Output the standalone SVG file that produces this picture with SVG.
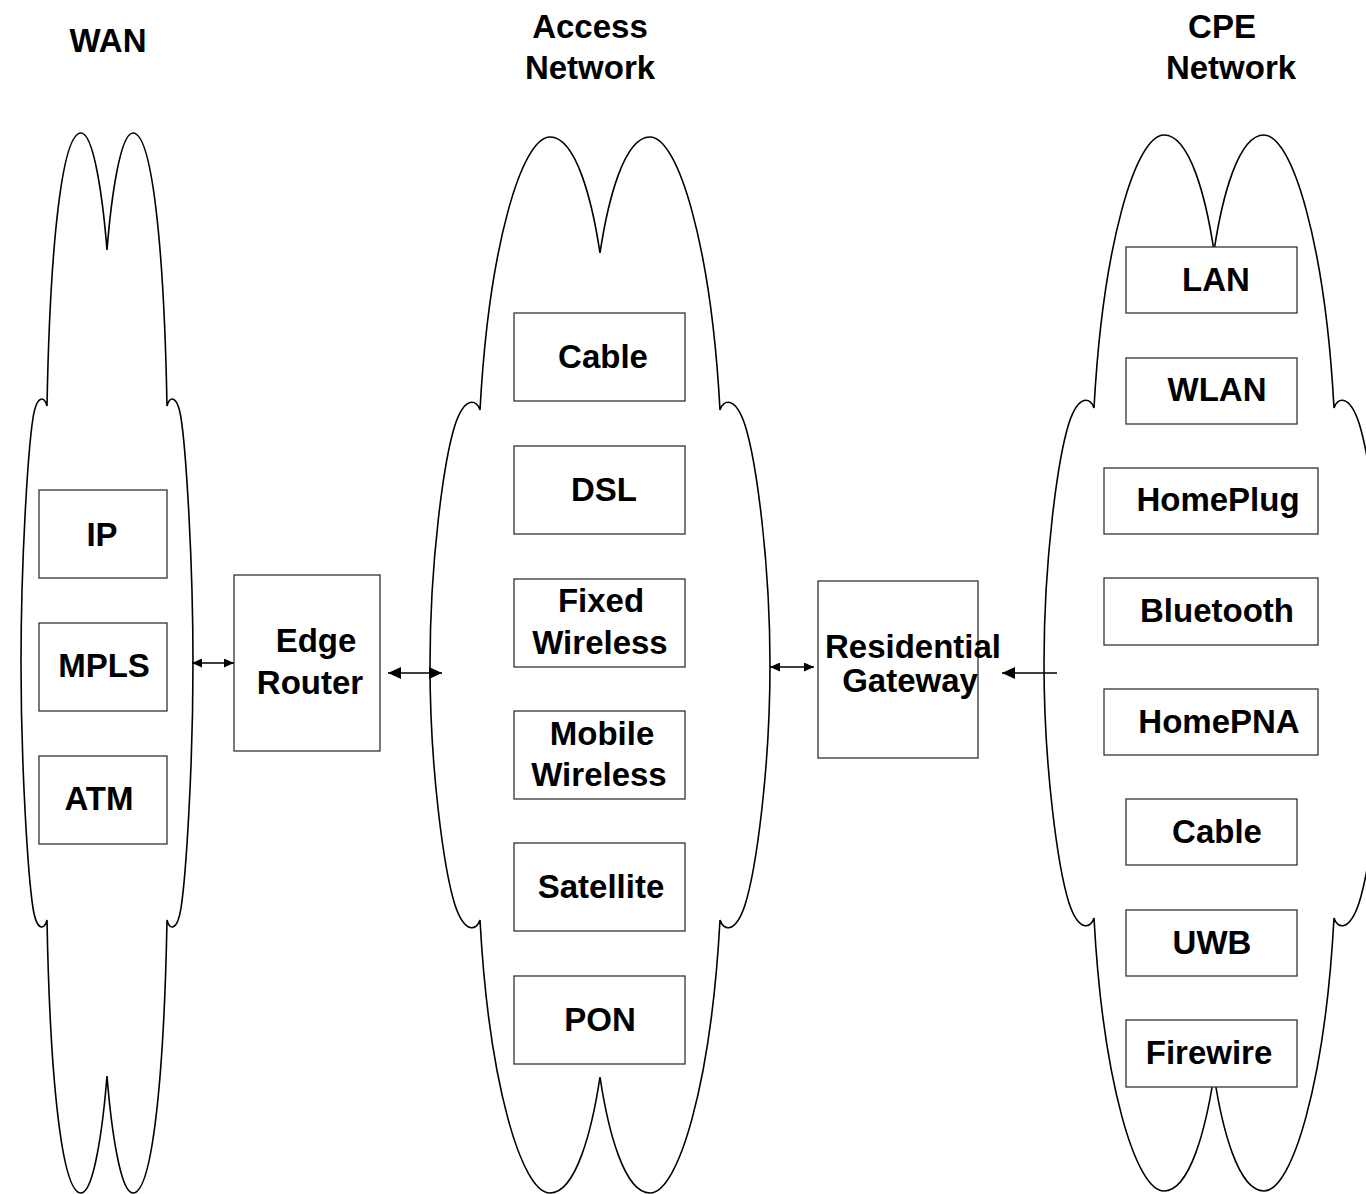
<svg xmlns="http://www.w3.org/2000/svg" xmlns:xlink="http://www.w3.org/1999/xlink" width="1366" height="1194" viewBox="0 0 1366 1194">
  <style>
    .cloud { fill: none; stroke: #000; stroke-width: 1.6; stroke-linejoin: miter; }
    .box { fill: #fff; stroke: #333; stroke-width: 1.3; }
    .lbl { font-family: "Liberation Sans", Arial, sans-serif; font-weight: bold; font-size: 33px; fill: #000; text-anchor: middle; }
    .wire { stroke: #000; stroke-width: 1.3; fill: none; }
  </style>
  <defs>
    <marker id="headS" markerUnits="userSpaceOnUse" markerWidth="10" markerHeight="9" refX="10" refY="4.5" orient="auto-start-reverse">
      <path d="M0,0 L10,4.5 L0,9 Z" fill="#000"/>
    </marker>
    <marker id="headL" markerUnits="userSpaceOnUse" markerWidth="13" markerHeight="12" refX="13" refY="6" orient="auto-start-reverse">
      <path d="M0,0 L13,6 L0,12 Z" fill="#000"/>
    </marker>
    <!-- wide cloud outline, centred on x=600, y=665 -->
    <path id="wideCloud" class="cloud" d="M480,410
      C489,245 522,137 550,137
      C576,137 592,200 600,253
      C608,200 624,137 650,137
      C678,137 711,245 720,410
      C723,400 735,395 745,425
      C756,460 770,560 770,665
      C770,770 756,870 745,905
      C735,935 723,930 720,920
      C711,1085 678,1193 650,1193
      C624,1193 608,1130 600,1077
      C592,1130 576,1193 550,1193
      C522,1193 489,1085 480,920
      C477,930 465,935 455,905
      C444,870 430,770 430,665
      C430,560 444,460 455,425
      C465,395 477,400 480,410 Z"/>
  </defs>

  <rect width="1366" height="1194" fill="#fff"/>

  <!-- column headings -->
  <g id="headings">
    <text class="lbl" x="108" y="52">WAN</text>
    <text class="lbl" x="590" y="38">Access</text>
    <text class="lbl" x="590" y="79">Network</text>
    <text class="lbl" x="1222" y="38">CPE</text>
    <text class="lbl" x="1231" y="79">Network</text>
  </g>

  <!-- WAN cloud and its members -->
  <g id="wan">
    <path class="cloud" d="M47,406
      C50,245 62,133 81,133
      C94,133 103,200 107,250
      C111,200 120,133 133,133
      C152,133 164,245 167,406
      C169,397 177,393 181,418
      C186,450 193,560 193,663
      C193,766 186,876 181,908
      C177,933 169,929 167,920
      C164,1081 152,1193 133,1193
      C120,1193 111,1126 107,1076
      C103,1126 94,1193 81,1193
      C62,1193 50,1081 47,920
      C45,929 37,933 33,908
      C28,876 21,766 21,663
      C21,560 28,450 33,418
      C37,393 45,397 47,406 Z"/>
    <g id="wan-ip"><rect class="box" x="39" y="490" width="128" height="88"/><text class="lbl" x="102" y="546">IP</text></g>
    <g id="wan-mpls"><rect class="box" x="39" y="623" width="128" height="88"/><text class="lbl" x="104" y="677">MPLS</text></g>
    <g id="wan-atm"><rect class="box" x="39" y="756" width="128" height="88"/><text class="lbl" x="99" y="810">ATM</text></g>
  </g>

  <g id="edge-router">
    <rect class="box" x="234" y="575" width="146" height="176"/>
    <text class="lbl" x="316" y="652">Edge</text>
    <text class="lbl" x="310" y="694">Router</text>
  </g>

  <!-- access network cloud -->
  <g id="access">
    <use xlink:href="#wideCloud" href="#wideCloud"/>
    <g id="acc-cable"><rect class="box" x="514" y="313" width="171" height="88"/><text class="lbl" x="603" y="368">Cable</text></g>
    <g id="acc-dsl"><rect class="box" x="514" y="446" width="171" height="88"/><text class="lbl" x="604" y="501">DSL</text></g>
    <g id="acc-fixed"><rect class="box" x="514" y="579" width="171" height="88"/><text class="lbl" x="601" y="612">Fixed</text><text class="lbl" x="600" y="654">Wireless</text></g>
    <g id="acc-mobile"><rect class="box" x="514" y="711" width="171" height="88"/><text class="lbl" x="602" y="745">Mobile</text><text class="lbl" x="599" y="786">Wireless</text></g>
    <g id="acc-satellite"><rect class="box" x="514" y="843" width="171" height="88"/><text class="lbl" x="601" y="898">Satellite</text></g>
    <g id="acc-pon"><rect class="box" x="514" y="976" width="171" height="88"/><text class="lbl" x="600" y="1031">PON</text></g>
  </g>

  <g id="residential-gateway">
    <rect class="box" x="818" y="581" width="160" height="177"/>
    <text class="lbl" x="913" y="658">Residential</text>
    <text class="lbl" x="910" y="692">Gateway</text>
  </g>

  <!-- customer premises cloud -->
  <g id="cpe">
    <use xlink:href="#wideCloud" href="#wideCloud" transform="translate(614,-2)"/>
    <g id="cpe-lan"><rect class="box" x="1126" y="247" width="171" height="66"/><text class="lbl" x="1216" y="291">LAN</text></g>
    <g id="cpe-wlan"><rect class="box" x="1126" y="358" width="171" height="66"/><text class="lbl" x="1217" y="401">WLAN</text></g>
    <g id="cpe-homeplug"><rect class="box" x="1104" y="468" width="214" height="66"/><text class="lbl" x="1218" y="511">HomePlug</text></g>
    <g id="cpe-bluetooth"><rect class="box" x="1104" y="578" width="214" height="67"/><text class="lbl" x="1217" y="622">Bluetooth</text></g>
    <g id="cpe-homepna"><rect class="box" x="1104" y="689" width="214" height="66"/><text class="lbl" x="1219" y="733">HomePNA</text></g>
    <g id="cpe-cable"><rect class="box" x="1126" y="799" width="171" height="66"/><text class="lbl" x="1217" y="843">Cable</text></g>
    <g id="cpe-uwb"><rect class="box" x="1126" y="910" width="171" height="66"/><text class="lbl" x="1212" y="954">UWB</text></g>
    <g id="cpe-firewire"><rect class="box" x="1126" y="1020" width="171" height="67"/><text class="lbl" x="1209" y="1064">Firewire</text></g>
  </g>

  <!-- links between the networks -->
  <g id="connectors">
    <line class="wire" x1="192" y1="663" x2="234" y2="663" marker-start="url(#headS)" marker-end="url(#headS)"/>
    <line class="wire" x1="388" y1="673" x2="442" y2="673" marker-start="url(#headL)" marker-end="url(#headL)"/>
    <line class="wire" x1="770" y1="667" x2="814" y2="667" marker-start="url(#headS)" marker-end="url(#headS)"/>
    <line class="wire" x1="1057" y1="673" x2="1002" y2="673" marker-end="url(#headL)"/>
  </g>
</svg>
